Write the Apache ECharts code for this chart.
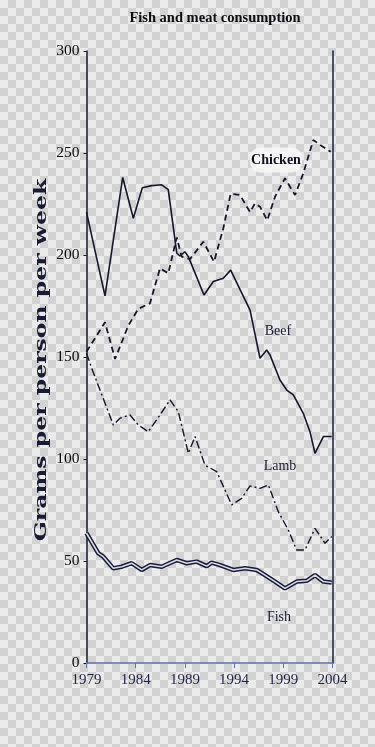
<!DOCTYPE html>
<html>
<head>
<meta charset="utf-8">
<script src="https://cdn.jsdelivr.net/npm/echarts@6/dist/echarts.min.js"></script>
<style>
html,body{margin:0;padding:0;}
body{width:375px;height:747px;overflow:hidden;
background: repeating-conic-gradient(#d2d2d2 0 25%, #ebebeb 0 50%) 0 0/16px 16px;}
#chart{width:375px;height:747px;}
</style>
</head>
<body>
<div id="chart"></div>
<script>
// ---- data ----
var title = "Fish and meat consumption";
var yAxisTitle = "Grams per person per week";
var yTicks = [0, 50, 100, 150, 200, 250, 300];
var xTicks = [1979, 1984, 1989, 1994, 1999, 2004];

var beefYears  = [1979, 1980.88, 1982.68, 1983.76, 1984.67, 1985.63, 1986.64, 1987.31, 1988.17, 1988.5, 1989.0, 1989.35, 1990.94, 1991.89, 1992.9, 1993.65, 1995.62, 1996.63, 1997.31, 1997.65, 1998.66, 1999.35, 2000.02, 2001.03, 2001.71, 2002.22, 2003.07, 2003.92];
var beefValues = [221, 180, 238, 218, 233, 234, 234.4, 232, 201, 199.5, 201.6, 199.2, 180.4, 187, 188.6, 192.6, 173, 149.4, 153.4, 151, 138.7, 133.8, 131.4, 122.4, 113.4, 102.8, 111, 111];

var chickenYears  = [1979, 1980.88, 1981.9, 1983.25, 1984.26, 1985.45, 1986.47, 1987.31, 1988.17, 1988.67, 1989.52, 1990.87, 1991.96, 1992.9, 1993.65, 1994.6, 1995.62, 1996.12, 1996.63, 1997.37, 1998.16, 1999.17, 2000.19, 2001.03, 2002.05, 2002.73, 2003.82];
var chickenValues = [152.6, 167, 149, 165.4, 173.6, 176.3, 193.5, 191, 208.6, 199.2, 198, 206.5, 196.7, 213, 230, 229.4, 221, 225.3, 223.7, 217, 228.6, 237.6, 229.4, 240, 256.4, 254, 250.6];

var lambYears  = [1979, 1979.53, 1981.72, 1982.4, 1983.42, 1984.26, 1985.28, 1986.47, 1987.49, 1988.33, 1989.35, 1990.03, 1991.04, 1992.23, 1993.76, 1994.77, 1995.62, 1996.63, 1997.48, 1998.49, 1999.51, 2000.36, 2001.2, 2002.22, 2003.24, 2003.92];
var lambValues = [151.8, 144.5, 116.7, 120, 121.6, 116.7, 113.4, 121.6, 129, 123.2, 102.8, 111, 97, 93.8, 77.5, 80.7, 86.8, 85.6, 87.3, 74.2, 65.2, 55.4, 55.4, 66, 58.7, 62];

var fishYears  = [1979, 1980.2, 1980.71, 1981.72, 1982.58, 1983.59, 1984.61, 1985.45, 1986.64, 1988.17, 1989.18, 1990.2, 1991.22, 1991.72, 1992.57, 1993.92, 1995.11, 1996.3, 1997.14, 1998.16, 1999.17, 2000.36, 2001.38, 2002.22, 2003.07, 2003.92];
var fishValues = [63.6, 53.8, 52.1, 46.4, 47.2, 48.9, 45.6, 48, 47.2, 50.5, 48.9, 49.7, 47.5, 49.2, 48, 45.6, 46.4, 45.6, 43.1, 39.9, 36.6, 39.9, 40.3, 43.1, 39.9, 39.4];

var seriesNames = ["Chicken", "Beef", "Lamb", "Fish"];

function pairs(xs, ys){ return xs.map(function(x,i){ return [x, ys[i]]; }); }

var ink = '#15172a';
var labelInk = '#181b33';
var serif = '"Liberation Serif", "Times New Roman", serif';

var chart = echarts.init(document.getElementById('chart'), null, {renderer:'canvas'});
chart.setOption({
  backgroundColor: 'transparent',
  animation: false,
  title: {
    text: title, left: 210, top: 6, textAlign: 'center',
    textStyle: {fontFamily: serif, fontSize: 14.5, fontWeight: 'bold', color: '#0d0d12'}
  },
  grid: {left: 86.5, right: 42.5, top: 51, bottom: 84},
  xAxis: {
    type: 'value', min: xTicks[0], max: xTicks[xTicks.length-1], interval: 5,
    axisLine: {show: true, lineStyle: {color: '#6272a4', width: 1.5}},
    axisTick: {show: true, inside: false, length: 5, lineStyle: {color: '#6272a4'}},
    splitLine: {show: false},
    axisLabel: {fontFamily: serif, fontSize: 15, color: '#1f2444', margin: 10,
      formatter: function(v){ return String(v); }}
  },
  yAxis: [{
    type: 'value', min: yTicks[0], max: yTicks[yTicks.length-1], interval: 50,
    axisLine: {show: true, lineStyle: {color: ink, width: 1.5}},
    axisTick: {show: true, inside: false, length: 3, lineStyle: {color: ink}},
    splitLine: {show: false},
    axisLabel: {fontFamily: serif, fontSize: 15.5, color: '#0d0d12', margin: 7}
  }, {
    type: 'value', min: yTicks[0], max: yTicks[yTicks.length-1], position: 'right',
    axisLine: {show: true, lineStyle: {color: '#1a2040', width: 1.5}},
    axisTick: {show: false}, axisLabel: {show: false}, splitLine: {show: false}
  }],
  graphic: [
    {type: 'text', x: 42, y: 360, rotation: Math.PI/2, scaleX: 1.47,
     style: {text: yAxisTitle, font: 'bold 16px "DejaVu Serif", serif', fill: labelInk,
       textAlign: 'center', textVerticalAlign: 'middle'}},
    {type: 'text', x: 276, y: 160,
     style: {text: seriesNames[0], font: 'bold 14px ' + serif, fill: '#10121f',
       textAlign: 'center', textVerticalAlign: 'middle',
       backgroundColor: 'rgba(248,248,248,0.85)', padding: [1,1,10,1], borderRadius: 10}},
    {type: 'text', x: 278, y: 331,
     style: {text: seriesNames[1], font: '14px ' + serif, fill: labelInk,
       textAlign: 'center', textVerticalAlign: 'middle'}},
    {type: 'text', x: 280, y: 466,
     style: {text: seriesNames[2], font: '14px ' + serif, fill: labelInk,
       textAlign: 'center', textVerticalAlign: 'middle'}},
    {type: 'text', x: 279, y: 617,
     style: {text: seriesNames[3], font: '14px ' + serif, fill: labelInk,
       textAlign: 'center', textVerticalAlign: 'middle'}}
  ],
  series: [
    {name: seriesNames[0], type: 'line', data: pairs(chickenYears, chickenValues), symbol: 'none',
     lineStyle: {color: ink, width: 1.8, type: [6, 4]}, z: 3},
    {name: seriesNames[1], type: 'line', data: pairs(beefYears, beefValues), symbol: 'none',
     lineStyle: {color: ink, width: 1.6, type: 'solid'}, z: 4},
    {name: seriesNames[2], type: 'line', data: pairs(lambYears, lambValues), symbol: 'none',
     lineStyle: {color: ink, width: 1.4, type: [8, 3, 2, 3]}, z: 3},
    {name: seriesNames[3], type: 'line', data: pairs(fishYears, fishValues), symbol: 'none',
     lineStyle: {color: '#1a1d3a', width: 4.5}, z: 3},
    {name: seriesNames[3] + ' inner', type: 'line', data: pairs(fishYears, fishValues), symbol: 'none',
     lineStyle: {color: '#d9dbe6', width: 1.5}, z: 4}
  ]
});
</script>
</body>
</html>
